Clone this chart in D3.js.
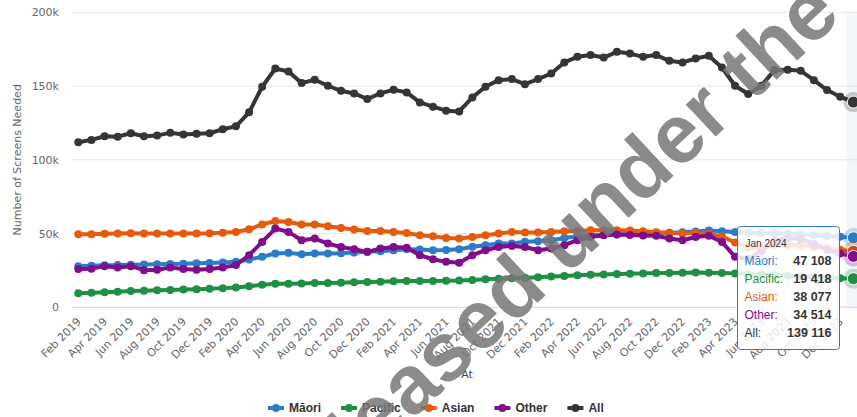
<!DOCTYPE html>
<html>
<head>
<meta charset="utf-8">
<script src="https://cdn.jsdelivr.net/npm/d3@7"></script>
<style>
  body { margin: 0; background: #fff; }
  svg { display: block; font-family: "DejaVu Sans", sans-serif; }
</style>
</head>
<body>
<div id="chart"></div>
<script>
// Months shown on the x axis (Feb 2019 - Jan 2024)
var months = [
  "Feb 2019", "Mar 2019", "Apr 2019", "May 2019", "Jun 2019", "Jul 2019", "Aug 2019", "Sep 2019", "Oct 2019", "Nov 2019", "Dec 2019",
  "Jan 2020", "Feb 2020", "Mar 2020", "Apr 2020", "May 2020", "Jun 2020", "Jul 2020", "Aug 2020", "Sep 2020", "Oct 2020", "Nov 2020", "Dec 2020",
  "Jan 2021", "Feb 2021", "Mar 2021", "Apr 2021", "May 2021", "Jun 2021", "Jul 2021", "Aug 2021", "Sep 2021", "Oct 2021", "Nov 2021", "Dec 2021",
  "Jan 2022", "Feb 2022", "Mar 2022", "Apr 2022", "May 2022", "Jun 2022", "Jul 2022", "Aug 2022", "Sep 2022", "Oct 2022", "Nov 2022", "Dec 2022",
  "Jan 2023", "Feb 2023", "Mar 2023", "Apr 2023", "May 2023", "Jun 2023", "Jul 2023", "Aug 2023", "Sep 2023", "Oct 2023", "Nov 2023", "Dec 2023",
  "Jan 2024"
];

// Series values (number of screens needed)
var maori = [
  27900, 28200, 28500, 28600, 28900, 29000, 29200, 29400, 29600, 29900, 30100,
  30400, 30800, 32400, 34300, 36500, 36900, 36000, 36500, 36500, 36600, 37100, 37600,
  38000, 38700, 39400, 39200, 38700, 38800, 39400, 41000, 42100, 43200, 43200, 44400,
  44800, 45500, 47000, 48200, 48900, 49300, 49500, 49700, 49800, 50300, 50500, 50800,
  51400, 52000, 51600, 51100, 50500, 50300, 50200, 50000, 49600, 49000, 48400, 47800,
  47108
];
var pacific = [
  9500, 9800, 10200, 10600, 11000, 11200, 11500, 11800, 12000, 12300, 12600,
  13000, 13400, 14200, 15300, 16000, 16000, 16200, 16400, 16500, 16700, 16900, 17100,
  17300, 17600, 17800, 17900, 17900, 18000, 18100, 18500, 19000, 19400, 19700, 20000,
  20400, 20800, 21300, 21700, 22000, 22300, 22600, 22800, 23000, 23200, 23300, 23500,
  23600, 23500, 23300, 23000, 22600, 22200, 21800, 21400, 21000, 20500, 20100, 19700,
  19418
];
var asian = [
  49500, 49600, 49900, 50000, 50200, 50000, 50000, 50000, 50100, 50100, 50200,
  50500, 51000, 52900, 56100, 58500, 57800, 56100, 56100, 54900, 53800, 52700, 51800,
  51800, 51100, 50400, 48900, 48200, 47000, 46600, 47700, 48900, 50000, 51100, 50700,
  50700, 51100, 51600, 51800, 52300, 52300, 52300, 52000, 51600, 50900, 50500, 50000,
  50500, 49800, 48000, 44000, 40500, 40500, 42000, 42000, 42000, 41000, 40000, 39000,
  38077
];
var other = [
  25900, 26200, 27900, 27000, 27900, 25200, 25500, 27000, 25900, 25500, 25900,
  27000, 28600, 35300, 44300, 53400, 51100, 45500, 46600, 43200, 40900, 39400, 37600,
  39900, 40900, 40400, 35300, 32600, 30800, 30200, 35300, 38700, 40900, 41600, 40900,
  38700, 39900, 42100, 45500, 47700, 48900, 49300, 49000, 48700, 48500, 46600, 45500,
  47700, 48500, 44300, 34200, 32500, 38000, 45000, 47000, 46500, 43000, 39000, 36500,
  34514
];
var all = [
  111900, 113500, 116000, 115700, 118000, 116000, 116400, 118400, 117100, 117600, 118000,
  120700, 122700, 132200, 149500, 161900, 159900, 152000, 154300, 150200, 146800, 145000, 141200,
  145000, 147500, 145700, 138900, 136000, 133300, 132800, 142300, 149500, 154000, 154700, 151300,
  154700, 158500, 166000, 169800, 171100, 169300, 173200, 172000, 169800, 171000, 167100, 166000,
  168700, 170500, 162600, 150200, 144600, 150200, 160800, 161000, 160300, 154000, 147300, 142800,
  139116
];

var seriesNames = ["Māori", "Pacific", "Asian", "Other", "All"];
var seriesValues = [maori, pacific, asian, other, all];
var seriesColors = ["#2b7bc9", "#1f8f45", "#e55a0c", "#7f0d8c", "#353535"];

var yTicks = [0, 50000, 100000, 150000, 200000];
var xTickLabels = months.filter(function(d, i) { return i % 2 === 0; });

var series = seriesNames.map(function(name, i) {
  return { name: name, values: seriesValues[i], color: seriesColors[i] };
});

// SVG area
var svgWidth = 857;
var svgHeight = 417;

var plot = { left: 72, right: 862, top: 12.3, bottom: 307.3 };

var svg = d3.select("#chart")
  .append("svg")
  .attr("width", svgWidth)
  .attr("height", svgHeight);

// Scales
var xScale = d3.scalePoint()
  .domain(months)
  .range([78.3, 853.3]);

var yScale = d3.scaleLinear()
  .domain([0, 200000])
  .range([plot.bottom, plot.top]);

var step = xScale.step();

// Gridlines
svg.append("g")
  .selectAll("line")
  .data(yTicks)
  .enter()
  .append("line")
  .attr("x1", plot.left)
  .attr("x2", plot.right)
  .attr("y1", d => yScale(d))
  .attr("y2", d => yScale(d))
  .attr("stroke", d => d === 0 ? "#ccd6eb" : "#e6e6e6")
  .attr("stroke-width", 1);

// Hover crosshair band on last month
var lastMonth = months[months.length - 1];
svg.append("rect")
  .attr("x", xScale(lastMonth) - step / 2)
  .attr("y", plot.top)
  .attr("width", step)
  .attr("height", plot.bottom - plot.top)
  .attr("fill", "#ccd6eb")
  .attr("opacity", 0.25);

// Y axis
var leftAxis = d3.axisLeft(yScale)
  .tickValues(yTicks)
  .tickSize(0)
  .tickPadding(13)
  .tickFormat(d => d === 0 ? "0" : (d / 1000) + "k");

var yAxisG = svg.append("g")
  .attr("transform", `translate(${plot.left}, 0)`)
  .call(leftAxis);
yAxisG.select(".domain").remove();
yAxisG.selectAll("text")
  .attr("fill", "#666")
  .style("font-size", "11px")
  .style("font-family", "DejaVu Sans");

// X axis with rotated labels
var bottomAxis = d3.axisBottom(xScale)
  .tickValues(xTickLabels)
  .tickSize(0);

var xAxisG = svg.append("g")
  .attr("transform", `translate(0, ${plot.bottom})`)
  .call(bottomAxis);
xAxisG.select(".domain").remove();
xAxisG.selectAll("text")
  .attr("x", 0)
  .attr("y", 0)
  .attr("dy", 0)
  .attr("text-anchor", "end")
  .attr("transform", "translate(3, 15) rotate(-45)")
  .attr("fill", "#666")
  .style("font-size", "11px")
  .style("font-family", "DejaVu Sans");

// Axis titles
svg.append("text")
  .attr("transform", `translate(21, ${(plot.top + plot.bottom) / 2}) rotate(-90)`)
  .attr("text-anchor", "middle")
  .attr("fill", "#666")
  .style("font-size", "11px")
  .text("Number of Screens Needed");

svg.append("text")
  .attr("x", (plot.left + plot.right) / 2)
  .attr("y", 378)
  .attr("text-anchor", "middle")
  .attr("fill", "#444")
  .style("font-size", "11px")
  .text("At");

// Lines and markers
var line = d3.line()
  .x((d, i) => xScale(months[i]))
  .y(d => yScale(d));

var seriesG = svg.append("g");

series.forEach(function(s) {
  var g = seriesG.append("g");
  g.append("path")
    .datum(s.values)
    .attr("d", line)
    .attr("fill", "none")
    .attr("stroke", s.color)
    .attr("stroke-width", 4)
    .attr("stroke-linejoin", "round");
  g.selectAll("circle")
    .data(s.values.slice(0, -1))
    .enter()
    .append("circle")
    .attr("cx", (d, i) => xScale(months[i]))
    .attr("cy", d => yScale(d))
    .attr("r", 4)
    .attr("fill", s.color);
});

// Hovered points (last month)
series.forEach(function(s) {
  var v = s.values[s.values.length - 1];
  seriesG.append("circle")
    .attr("cx", xScale(lastMonth))
    .attr("cy", yScale(v))
    .attr("r", 10)
    .attr("fill", s.color)
    .attr("opacity", 0.25);
  seriesG.append("circle")
    .attr("cx", xScale(lastMonth))
    .attr("cy", yScale(v))
    .attr("r", 6)
    .attr("fill", s.color)
    .attr("stroke", "#fff")
    .attr("stroke-width", 1);
});

// Legend
var legend = svg.append("g");
var legendX = 268;
series.forEach(function(s) {
  var item = legend.append("g").attr("transform", `translate(${legendX}, 408)`);
  item.append("line")
    .attr("x1", 0).attr("x2", 16)
    .attr("y1", 0).attr("y2", 0)
    .attr("stroke", s.color)
    .attr("stroke-width", 4);
  item.append("circle")
    .attr("cx", 8).attr("cy", 0).attr("r", 4)
    .attr("fill", s.color);
  var t = item.append("text")
    .attr("x", 21)
    .attr("y", 4)
    .attr("fill", "#333")
    .style("font-family", "Liberation Sans, Arial, sans-serif")
    .style("font-size", "12px")
    .style("font-weight", "bold")
    .text(s.name);
  legendX += 21 + t.node().getComputedTextLength() + 20;
});

// Tooltip for Jan 2024
var numFormat = d3.formatLocale({ decimal: ".", thousands: " ", grouping: [3], currency: ["", ""] }).format(",");

var tip = svg.append("g").attr("transform", "translate(737.5, 226.5)");
tip.append("rect")
  .attr("width", 102)
  .attr("height", 123)
  .attr("rx", 3)
  .attr("fill", "#fff")
  .attr("fill-opacity", 0.85)
  .attr("stroke", seriesColors[0])
  .attr("stroke-width", 1);
tip.append("text")
  .attr("x", 8)
  .attr("y", 20)
  .attr("fill", "#333")
  .style("font-family", "Liberation Sans, Arial, sans-serif")
  .style("font-size", "10px")
  .text(lastMonth);
series.forEach(function(s, i) {
  tip.append("text")
    .attr("x", 7)
    .attr("y", 38 + i * 18)
    .attr("fill", s.color)
    .style("font-family", "Liberation Sans, Arial, sans-serif")
    .style("font-size", "12px")
    .text(s.name + ":");
  tip.append("text")
    .attr("x", 94)
    .attr("y", 38 + i * 18)
    .attr("text-anchor", "end")
    .attr("fill", "#333")
    .style("font-family", "Liberation Sans, Arial, sans-serif")
    .style("font-size", "12.5px")
    .style("font-weight", "bold")
    .text(numFormat(s.values[s.values.length - 1]));
});

// Watermark
svg.append("text")
  .attr("transform", "translate(283, 540) rotate(-43)")
  .attr("fill", "#777")
  .attr("opacity", 0.85)
  .style("font-family", "Liberation Sans, Arial, sans-serif")
  .style("font-size", "83px")
  .style("font-weight", "bold")
  .text("Released under the");
</script>
</body>
</html>
